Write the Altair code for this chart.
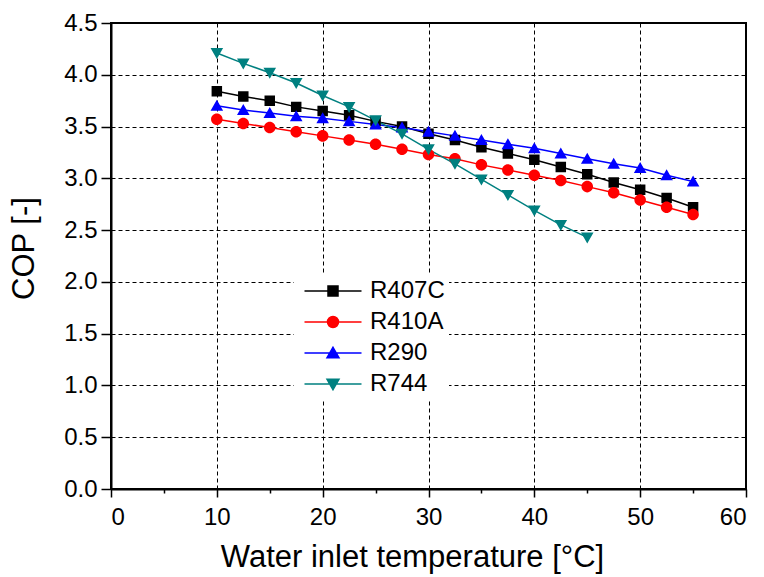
import altair as alt
import pandas as pd

temps = [10, 12.5, 15, 17.5, 20, 22.5, 25, 27.5, 30, 32.5, 35, 37.5, 40, 42.5, 45, 47.5, 50, 52.5, 55]
temps_r744 = [10, 12.5, 15, 17.5, 20, 22.5, 25, 27.5, 30, 32.5, 35, 37.5, 40, 42.5, 45]

r407c = [3.84, 3.79, 3.75, 3.69, 3.65, 3.61, 3.55, 3.50, 3.43, 3.37, 3.30, 3.24, 3.18, 3.11, 3.04, 2.96, 2.89, 2.81, 2.72]
r410a = [3.57, 3.53, 3.49, 3.45, 3.41, 3.37, 3.33, 3.28, 3.23, 3.19, 3.13, 3.08, 3.03, 2.98, 2.92, 2.86, 2.79, 2.72, 2.65]
r290 = [3.70, 3.66, 3.63, 3.60, 3.58, 3.55, 3.52, 3.49, 3.45, 3.41, 3.37, 3.33, 3.29, 3.24, 3.19, 3.14, 3.10, 3.03, 2.97]
r744 = [4.21, 4.11, 4.02, 3.92, 3.80, 3.69, 3.56, 3.43, 3.28, 3.14, 2.99, 2.84, 2.69, 2.55, 2.43]

series_names = ["R407C", "R410A", "R290", "R744"]
series_colors = ["#000000", "#ff0000", "#0000ff", "#008080"]
series_shapes = ["square", "circle", "triangle-up", "triangle-down"]
legend_shapes = [
    "M-5.7,0H5.7M-1,-1H1V1H-1Z",
    "M-5.7,0H5.7M1.1,0A1.1,1.1,0,1,1,-1.1,0A1.1,1.1,0,1,1,1.1,0Z",
    "M-5.7,0H5.7M0,-1.15L1.2,0.95H-1.2Z",
    "M-5.7,0H5.7M0,1.15L1.2,-0.95H-1.2Z",
]

rows = []
for name, xs, ys in [("R407C", temps, r407c), ("R410A", temps, r410a),
                     ("R290", temps, r290), ("R744", temps_r744, r744)]:
    for x, y in zip(xs, ys):
        rows.append({"series": name, "temp": x, "cop": y})
df = pd.DataFrame(rows)

FONT = "Liberation Sans"

x_axis = alt.Axis(
    title="Water inlet temperature [°C]",
    values=list(range(0, 61, 5)),
    labelExpr="datum.value % 10 == 0 ? datum.label : ''",
    tickSize={"condition": {"test": "datum.value % 10 == 0", "value": 8}, "value": 4},
    gridOpacity={"condition": {"test": "datum.value % 10 == 0 && datum.value > 0 && datum.value < 60", "value": 1}, "value": 0},
    grid=True,
    labelPadding=8,
    titlePadding=13,
    titleX=301,
)
y_axis = alt.Axis(
    title="COP [-]",
    values=[i * 0.25 for i in range(19)],
    labelExpr="datum.value % 0.5 == 0 ? format(datum.value, '.1f') : ''",
    tickSize={"condition": {"test": "datum.value % 0.5 == 0", "value": 10}, "value": 5},
    gridOpacity={"condition": {"test": "datum.value % 0.5 == 0 && datum.value > 0 && datum.value < 4.5", "value": 1}, "value": 0},
    grid=True,
    labelPadding=4,
    titlePadding=23,
    titleY=225,
)

xs = alt.Scale(domain=[0, 60], nice=False, zero=False)
ys = alt.Scale(domain=[0, 4.5], nice=False, zero=False)
cscale = alt.Scale(domain=series_names, range=series_colors)

base = alt.Chart(df)

lines = base.mark_line(strokeWidth=1.5).encode(
    x=alt.X("temp:Q", scale=xs, axis=x_axis),
    y=alt.Y("cop:Q", scale=ys, axis=y_axis),
    color=alt.Color("series:N", scale=cscale, legend=None),
    detail="series:N",
)

points = base.mark_point(filled=True, opacity=1, size=110).encode(
    x=alt.X("temp:Q", scale=xs),
    y=alt.Y("cop:Q", scale=ys),
    color=alt.Color("series:N", scale=cscale, legend=None),
    shape=alt.Shape("series:N", scale=alt.Scale(domain=series_names, range=series_shapes), legend=None),
)

leg = alt.Legend(
    title=None,
    orient="none",
    legendX=183,
    legendY=252,
    direction="vertical",
    labelFont=FONT,
    labelFontSize=24,
    labelColor="#000000",
    labelOffset=25,
    symbolSize=100,
    symbolStrokeWidth=1.5,
    symbolOffset=23,
    rowPadding=7,
    padding=4,
    fillColor="#ffffff",
    labelLimit=300,
)

legend_layer = base.transform_calculate(name="datum.series").mark_point(
    filled=True, opacity=1, strokeWidth=1.5, size=0
).encode(
    x=alt.X("temp:Q", scale=xs),
    y=alt.Y("cop:Q", scale=ys),
    fill=alt.Fill("name:N", scale=alt.Scale(domain=series_names, range=series_colors), legend=leg),
    stroke=alt.Stroke("name:N", scale=alt.Scale(domain=series_names, range=series_colors), legend=leg),
    shape=alt.Shape("name:N", scale=alt.Scale(domain=series_names, range=legend_shapes), legend=leg),
)

chart = alt.layer(legend_layer, lines, points).properties(
    width=635,
    height=466,
    padding={"left": 111, "top": 23, "right": 18, "bottom": 88},
    autosize=alt.AutoSizeParams(type="none"),
    background="#ffffff",
).configure_view(
    stroke="#000000", strokeWidth=2
).configure_axis(
    domainColor="#000000",
    domainWidth=2,
    tickColor="#000000",
    tickWidth=1.5,
    gridColor="#000000",
    gridDash=[4, 3],
    gridWidth=1,
    labelFont=FONT,
    labelFontSize=24,
    labelColor="#000000",
    titleFont=FONT,
    titleFontSize=31,
    titleFontWeight="normal",
    titleColor="#000000",
)

chart.save("out.html", embed_options={"renderer": "svg", "actions": False})
